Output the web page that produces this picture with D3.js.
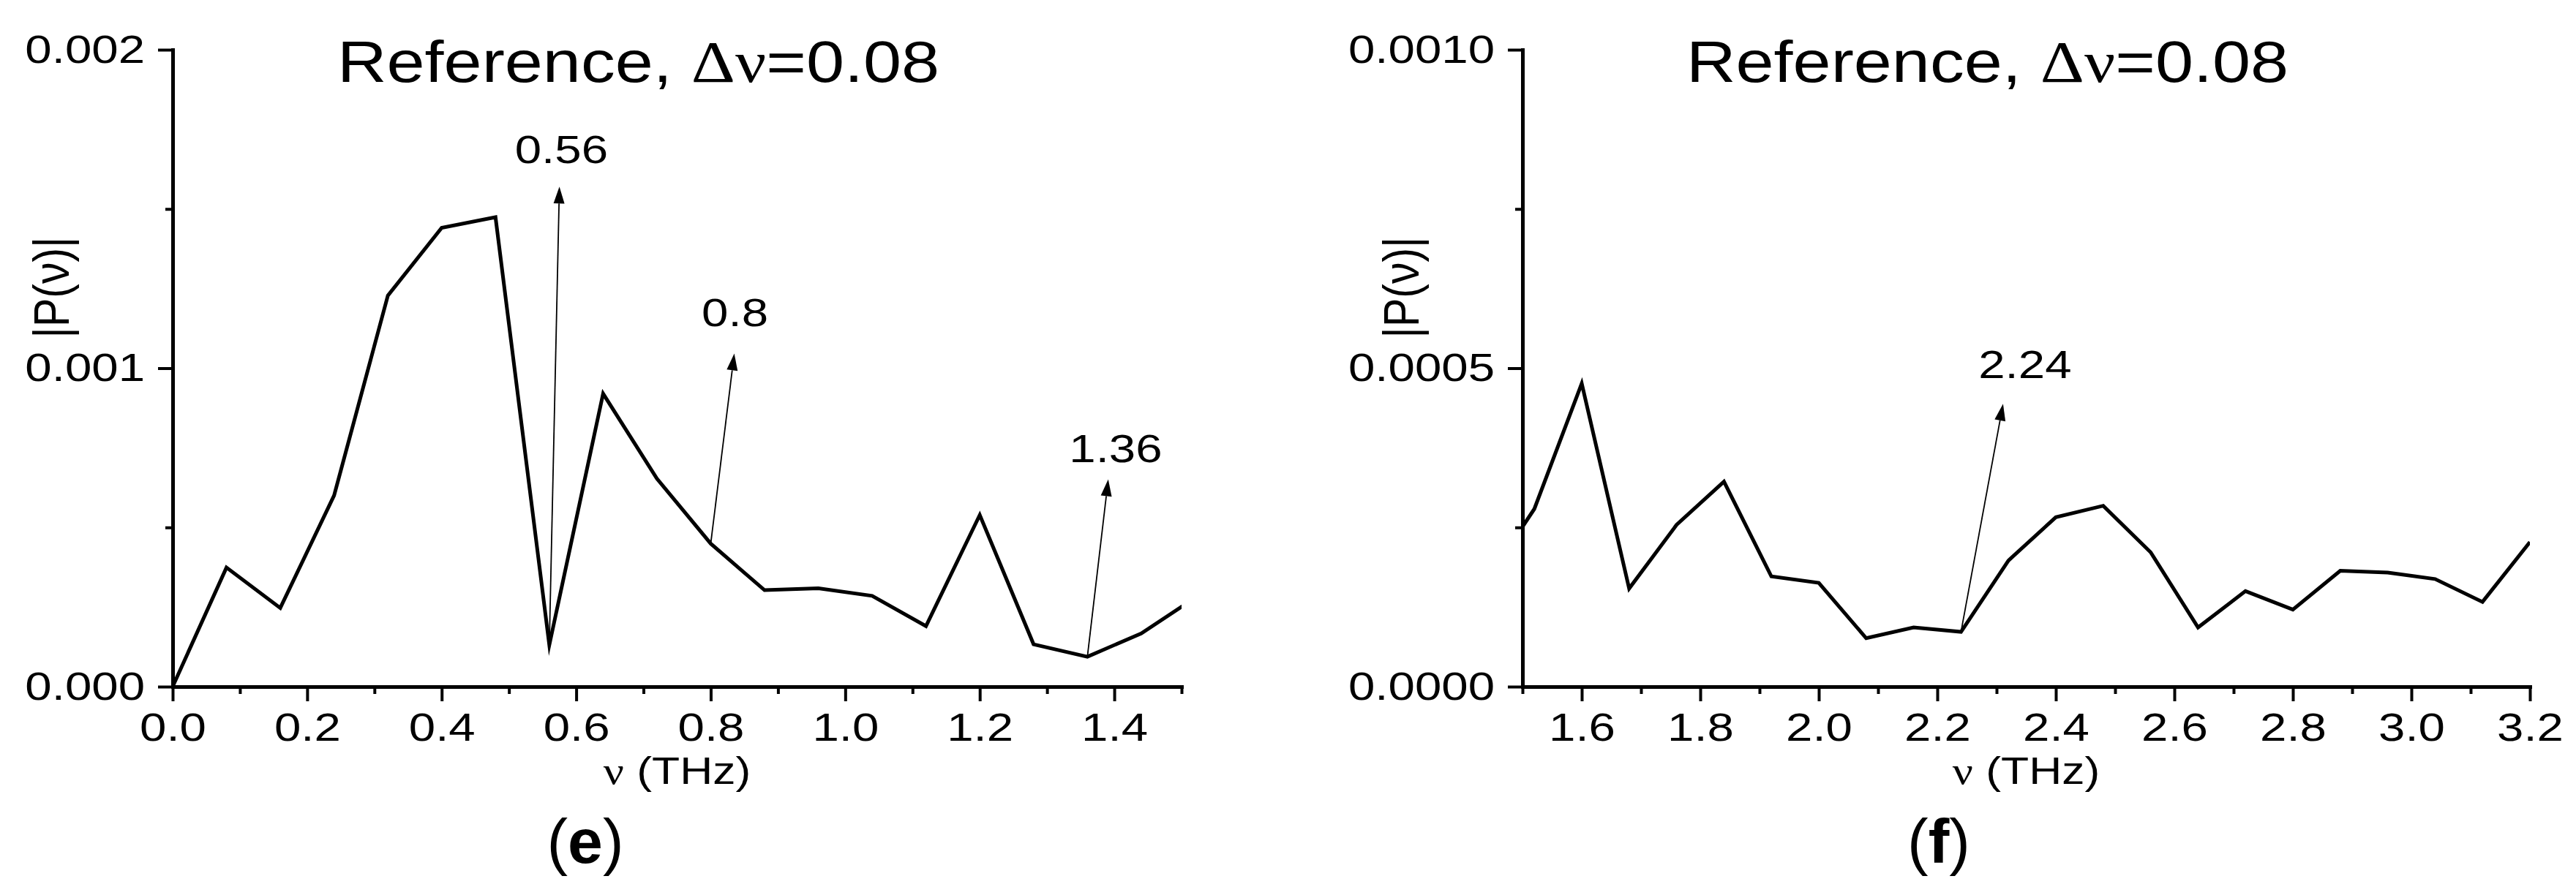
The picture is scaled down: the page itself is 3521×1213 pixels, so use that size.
<!DOCTYPE html>
<html>
<head>
<meta charset="utf-8">
<script src="https://cdn.jsdelivr.net/npm/d3@7"></script>
<style>
  body { margin: 0; background: #fff; }
  text { font-family: "Liberation Sans", Arial, sans-serif; fill: #000; }
</style>
</head>
<body>
<div id="chart"></div>
<script>
// |P(nu)| spectrum, reference, step 0.08 THz

// data
const freq = [0.00, 0.08, 0.16, 0.24, 0.32, 0.40, 0.48, 0.56, 0.64, 0.72,
              0.80, 0.88, 0.96, 1.04, 1.12, 1.20, 1.28, 1.36, 1.44, 1.52,
              1.60, 1.68, 1.76, 1.84, 1.92, 2.00, 2.08, 2.16, 2.24, 2.32,
              2.40, 2.48, 2.56, 2.64, 2.72, 2.80, 2.88, 2.96, 3.04, 3.12, 3.20];
const amp = [0, 0.000374, 0.000247, 0.000600, 0.001228, 0.001441, 0.001474, 0.000131, 0.000920, 0.000653,
             0.000449, 0.000303, 0.000309, 0.000285, 0.000190, 0.000539, 0.000133, 0.000094, 0.000167, 0.000279,
             0.000476, 0.000154, 0.000254, 0.000322, 0.000173, 0.000163, 0.000076, 0.000093, 0.000086, 0.000198,
             0.000266, 0.000284, 0.000211, 0.000093, 0.000150, 0.000121, 0.000182, 0.000179, 0.000169, 0.000133, 0.000227];

// panel (e)
const xTicksE = [0, 0.2, 0.4, 0.6, 0.8, 1.0, 1.2, 1.4];
const xLabelsE = ["0.0", "0.2", "0.4", "0.6", "0.8", "1.0", "1.2", "1.4"];
const xMinorE = [0.1, 0.3, 0.5, 0.7, 0.9, 1.1, 1.3, 1.5];
const yTicksE = [0, 0.001, 0.002];
const yLabelsE = ["0.000", "0.001", "0.002"];
const yMinorE = [0.0005, 0.0015];
const annoTextE = ["0.56", "0.8", "1.36"];
const annoFromE = [0.56, 0.80, 1.36];
const annoTipXE = [0.575, 0.835, 1.391];
const annoTipYE = [0.00157, 0.001046, 0.000651];
const annoLabXE = [0.578, 0.836, 1.402];
const annoLabYE = [0.001644, 0.001133, 0.000706];

// panel (f)
const xTicksF = [1.6, 1.8, 2.0, 2.2, 2.4, 2.6, 2.8, 3.0, 3.2];
const xLabelsF = ["1.6", "1.8", "2.0", "2.2", "2.4", "2.6", "2.8", "3.0", "3.2"];
const xMinorF = [1.5, 1.7, 1.9, 2.1, 2.3, 2.5, 2.7, 2.9, 3.1];
const yTicksF = [0, 0.0005, 0.001];
const yLabelsF = ["0.0000", "0.0005", "0.0010"];
const yMinorF = [0.00025, 0.00075];
const annoTextF = ["2.24"];
const annoFromF = [2.24];
const annoTipXF = [2.311];
const annoTipYF = [0.000444];
const annoLabXF = [2.348];
const annoLabYF = [0.000485];

const width = 3521, height = 1213;
const plotTop = 68, plotBottom = 939;
const sx = 1.2; // the picture is stretched sideways

const svg = d3.select("#chart")
    .append("svg")
    .attr("width", width)
    .attr("height", height)
    .attr("viewBox", [0, 0, width, height]);

svg.append("rect").attr("width", width).attr("height", height).attr("fill", "#fff");

const pts = freq.map((f, i) => ({ f: f, a: amp[i] }));

function panel(o) {
    const x = d3.scaleLinear().domain(o.xDomain).range([o.left, o.right]);
    const y = d3.scaleLinear().domain([0, o.yMax]).range([plotBottom, plotTop]);
    const g = svg.append("g");

    // clip for the line
    g.append("clipPath").attr("id", o.id + "-clip")
      .append("rect")
        .attr("x", o.left).attr("y", plotTop - 10)
        .attr("width", o.right - o.left).attr("height", plotBottom - plotTop + 20);

    g.append("path")
        .datum(pts)
        .attr("clip-path", `url(#${o.id}-clip)`)
        .attr("fill", "none")
        .attr("stroke", "#000")
        .attr("stroke-width", 5)
        .attr("stroke-linejoin", "miter")
        .attr("stroke-miterlimit", 6)
        .attr("d", d3.line().x(d => x(d.f)).y(d => y(d.a)));

    // minor ticks
    g.append("g")
        .attr("transform", `translate(0,${plotBottom})`)
        .call(d3.axisBottom(x).tickValues(o.xMinor).tickSize(10).tickFormat(""))
        .call(a => a.select(".domain").remove())
        .call(a => a.selectAll("line").attr("stroke-width", 4));
    g.append("g")
        .attr("transform", `translate(${o.left},0)`)
        .call(d3.axisLeft(y).tickValues(o.yMinor).tickSize(10).tickFormat(""))
        .call(a => a.select(".domain").remove())
        .call(a => a.selectAll("line").attr("stroke-width", 4));

    // major ticks + labels
    g.append("g")
        .attr("transform", `translate(0,${plotBottom})`)
        .call(d3.axisBottom(x).tickValues(o.xTicks).tickSize(20).tickSizeOuter(0).tickPadding(15)
            .tickFormat((d, i) => o.xLabels[i]))
        .call(a => a.select(".domain").attr("stroke-width", 5).attr("stroke-linecap", "square"))
        .call(a => a.selectAll("line").attr("stroke-width", 4))
        .call(a => a.selectAll("text")
            .attr("font-size", 54.5).attr("font-family", null)
            .attr("transform", `scale(${sx},1)`));

    g.append("g")
        .attr("transform", `translate(${o.left},0)`)
        .call(d3.axisLeft(y).tickValues(o.yTicks).tickSize(20).tickSizeOuter(0).tickPadding(18)
            .tickFormat((d, i) => o.yLabels[i]))
        .call(a => a.select(".domain").attr("stroke-width", 5).attr("stroke-linecap", "square"))
        .call(a => a.selectAll("line").attr("stroke-width", 4))
        .call(a => a.selectAll("text")
            .attr("font-size", 54.5).attr("font-family", null)
            .attr("x", -38 / sx)
            .attr("transform", `scale(${sx},1)`));

    // title
    const mid = (o.left + o.right) / 2;
    const t = g.append("text")
        .attr("transform", `translate(${mid - 53},112) scale(1.17,1)`)
        .attr("text-anchor", "middle")
        .attr("font-size", 80);
    t.append("tspan").text("Reference, ");
    t.append("tspan").attr("font-family", "Liberation Serif, serif").text("\u0394\u03bd");
    t.append("tspan").text("=0.08");

    // axis titles
    const xl = g.append("text")
        .attr("transform", `translate(${mid},1072) scale(${sx},1)`)
        .attr("text-anchor", "middle")
        .attr("font-size", 52);
    xl.append("tspan").attr("font-family", "Liberation Serif, serif").text("\u03bd");
    xl.append("tspan").text(" (THz)");

    g.append("text")
        .attr("transform", `translate(${o.left - 142},393) scale(1.15,1) rotate(-90)`)
        .attr("text-anchor", "middle")
        .attr("font-size", 59)
        .text("|P(\u03bd)|");

    // panel letter
    const pl = g.append("text")
        .attr("x", o.letterX).attr("y", 1180)
        .attr("text-anchor", "middle")
        .attr("font-family", "Liberation Serif, serif")
        .attr("font-size", 86);
    pl.append("tspan").text("(");
    pl.append("tspan").attr("font-weight", "bold").text(o.letter);
    pl.append("tspan").text(")");

    // arrows
    o.annoText.forEach((lab, i) => {
        const j = freq.indexOf(o.annoFrom[i]);
        const fx = x(freq[j]), fy = y(amp[j]);
        const tx = x(o.annoTipX[i]), ty = y(o.annoTipY[i]);
        const len = Math.hypot(tx - fx, ty - fy);
        const ux = (tx - fx) / len, uy = (ty - fy) / len;
        const bx = tx - ux * 23, by = ty - uy * 23;
        const nx = -uy, ny = ux;
        g.append("line")
            .attr("x1", fx).attr("y1", fy).attr("x2", bx).attr("y2", by)
            .attr("stroke", "#000").attr("stroke-width", 1.8);
        g.append("path")
            .attr("d", `M${tx},${ty}L${bx + nx * 7.5},${by + ny * 7.5}L${bx - nx * 7.5},${by - ny * 7.5}Z`)
            .attr("fill", "#000");
        g.append("text")
            .attr("transform", `translate(${x(o.annoLabX[i])},${y(o.annoLabY[i])}) scale(${sx},1)`)
            .attr("text-anchor", "middle")
            .attr("font-size", 54.5)
            .text(lab);
    });
}

panel({
    id: "e", left: 236, right: 1615, xDomain: [0, 1.5], yMax: 0.002,
    xTicks: xTicksE, xLabels: xLabelsE, xMinor: xMinorE,
    yTicks: yTicksE, yLabels: yLabelsE, yMinor: yMinorE,
    annoText: annoTextE, annoFrom: annoFromE, annoTipX: annoTipXE, annoTipY: annoTipYE,
    annoLabX: annoLabXE, annoLabY: annoLabYE,
    letter: "e", letterX: 800
});

panel({
    id: "f", left: 2081, right: 3458, xDomain: [1.5, 3.2], yMax: 0.001,
    xTicks: xTicksF, xLabels: xLabelsF, xMinor: xMinorF,
    yTicks: yTicksF, yLabels: yLabelsF, yMinor: yMinorF,
    annoText: annoTextF, annoFrom: annoFromF, annoTipX: annoTipXF, annoTipY: annoTipYF,
    annoLabX: annoLabXF, annoLabY: annoLabYF,
    letter: "f", letterX: 2650
});
</script>
</body>
</html>
